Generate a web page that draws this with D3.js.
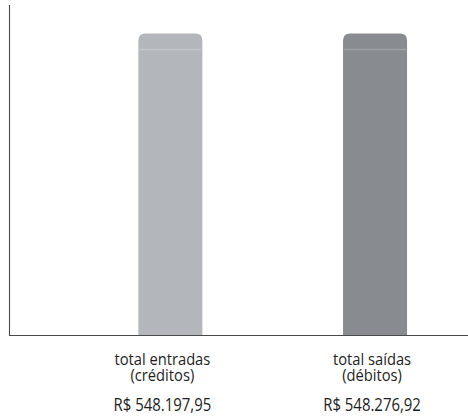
<!DOCTYPE html>
<html>
<head>
<meta charset="utf-8">
<script src="https://cdn.jsdelivr.net/npm/d3@7"></script>
<style>
  body { margin: 0; background: #fff; }
  svg text { font-family: "Open Sans", "Noto Sans", sans-serif; fill: #1e1e1e; }
</style>
</head>
<body>
<div id="frame"></div>
<script>
'use strict'

var categories = ["total entradas|(créditos)", "total saídas|(débitos)"]
var values = [548197.95, 548276.92]
var valueLabels = ["R$ 548.197,95", "R$ 548.276,92"]
var barColors = ["#b3b7bc", "#888c90"]
var labelShift = [-8, -3]

var W = 468, H = 417
var svg = d3.select("#frame").append("svg")
  .attr("width", W)
  .attr("height", H)

var x = d3.scaleBand()
  .domain(categories)
  .range([36, 509.4])
  .paddingInner(0.6873)
  .paddingOuter(0.5)

var y = d3.scaleLinear()
  .domain([0, 600000])
  .range([335, 5])

// axis lines
svg.append("line")
  .attr("x1", 9.5).attr("x2", 9.5)
  .attr("y1", y.range()[1]).attr("y2", y(0) + 1)
  .attr("stroke", "#4a4a4a").attr("stroke-width", 1.1)
svg.append("line")
  .attr("x1", 9).attr("x2", W)
  .attr("y1", y(0) + 0.5).attr("y2", y(0) + 0.5)
  .attr("stroke", "#4a4a4a").attr("stroke-width", 1.1)

var bars = svg.selectAll("g.bar")
  .data(categories)
  .enter().append("g")
  .attr("class", "bar")

// bar with rounded top corners only
bars.append("path")
  .attr("d", function(d, i) {
    var x0 = x(d), x1 = x(d) + x.bandwidth()
    var y0 = y(values[i]), yb = y(0), r = 7
    return "M" + x0 + "," + yb +
      "V" + (y0 + r) +
      "Q" + x0 + "," + y0 + " " + (x0 + r) + "," + y0 +
      "H" + (x1 - r) +
      "Q" + x1 + "," + y0 + " " + x1 + "," + (y0 + r) +
      "V" + yb + "Z"
  })
  .attr("fill", (d, i) => barColors[i])

// faint highlight band near top
bars.append("line")
  .attr("x1", d => x(d) + 1)
  .attr("x2", d => x(d) + x.bandwidth() - 1)
  .attr("y1", (d, i) => y(values[i]) + 16)
  .attr("y2", (d, i) => y(values[i]) + 16)
  .attr("stroke", "#fff").attr("stroke-opacity", 0.2).attr("stroke-width", 1.5)

function cx(i) { return x(categories[i]) + x.bandwidth() / 2 + labelShift[i] }

var labels = svg.selectAll("text.cat")
  .data(categories)
  .enter().append("text")
  .attr("class", "cat")
  .attr("text-anchor", "middle")
  .attr("font-size", 16)
  .attr("transform", (d, i) => "translate(" + cx(i) + ",365) scale(0.92,1)")

labels.selectAll("tspan")
  .data(d => d.split("|"))
  .enter().append("tspan")
  .attr("x", 0)
  .attr("dy", (d, i) => i === 0 ? 0 : 16)
  .text(d => d)

svg.selectAll("text.val")
  .data(valueLabels)
  .enter().append("text")
  .attr("class", "val")
  .attr("text-anchor", "middle")
  .attr("font-size", 18)
  .attr("transform", (d, i) => "translate(" + cx(i) + ",411) scale(0.83,1)")
  .text(d => d)
</script>
</body>
</html>
